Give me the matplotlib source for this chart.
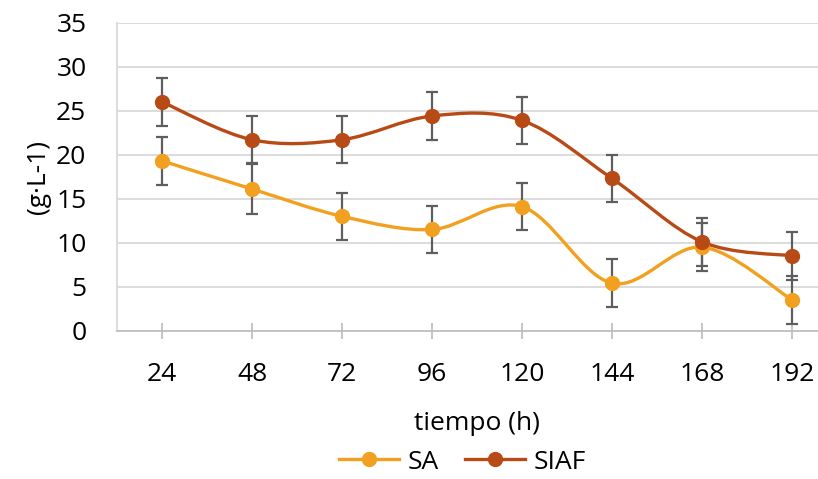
import matplotlib
matplotlib.use('Agg')
import matplotlib.pyplot as plt
from matplotlib.path import Path
from matplotlib.patches import PathPatch
from matplotlib.lines import Line2D
import numpy as np

plt.rcParams['font.family'] = ['Open Sans', 'DejaVu Sans']

horas = ['24', '48', '72', '96', '120', '144', '168', '192']
sa = [19.3, 16.1, 13.0, 11.5, 14.1, 5.4, 9.5, 3.5]
sa_err = [2.7, 2.8, 2.7, 2.7, 2.7, 2.7, 2.7, 2.7]
siaf = [26.0, 21.7, 21.7, 24.4, 23.9, 17.3, 10.1, 8.5]
siaf_err = [2.7, 2.7, 2.7, 2.7, 2.7, 2.7, 2.7, 2.7]

c_sa = '#F2A01F'
c_siaf = '#B84A16'
c_err = '#5E5E5E'
fs = 19


def smooth_path(x, y):
    # excel-like smoothed line: cubic bezier, catmull-rom control points
    pts = np.column_stack([x, y]).astype(float)
    n = len(pts)
    verts = [pts[0]]
    codes = [Path.MOVETO]
    for i in range(n - 1):
        p0 = pts[max(i - 1, 0)]
        p1 = pts[i]
        p2 = pts[i + 1]
        p3 = pts[min(i + 2, n - 1)]
        verts += [p1 + (p2 - p0) / 6, p2 - (p3 - p1) / 6, p2]
        codes += [Path.CURVE4] * 3
    return Path(verts, codes)


fig = plt.figure(figsize=(8.18, 4.79), dpi=100)
ax = fig.add_axes([117 / 818, 1 - 330.7 / 479, 720 / 818, (330.7 - 22.7) / 479])

x = np.arange(len(horas))
for vals, errs, col in [(sa, sa_err, c_sa), (siaf, siaf_err, c_siaf)]:
    ax.add_patch(PathPatch(smooth_path(x, vals), facecolor='none', edgecolor=col,
                           lw=2.4, zorder=3, capstyle='round'))
    ax.errorbar(x, vals, yerr=errs, fmt='none', ecolor=c_err, elinewidth=1.6,
                capsize=4.5, capthick=1.6, zorder=4)
    ax.plot(x, vals, 'o', color=col, markersize=10, zorder=5)

ax.set_xlim(-0.5, 7.5)
ax.set_ylim(0, 35)
ax.set_yticks(range(0, 36, 5))
ax.set_xticks(x)
ax.set_xticklabels(horas)
ax.grid(axis='y', color='#D9D9D9', lw=1.3)
ax.set_axisbelow(True)
for s in ['top', 'right']:
    ax.spines[s].set_visible(False)
ax.spines['left'].set_color('#D9D9D9')
ax.spines['bottom'].set_color('#BFBFBF')
ax.spines['left'].set_linewidth(1.3)
ax.spines['bottom'].set_linewidth(1.3)
ax.tick_params(axis='y', length=0, labelsize=fs, pad=22, colors='#000000')
ax.tick_params(axis='x', direction='inout', length=11, width=1.3, color='#BFBFBF',
               labelsize=fs, pad=17)
ax.set_xlabel('tiempo (h)', fontsize=fs, labelpad=17)
ax.set_ylabel('(g·L-1)', fontsize=fs, labelpad=4)

handles = [Line2D([], [], color=c_sa, lw=2.4, marker='o', markersize=10),
           Line2D([], [], color=c_siaf, lw=2.4, marker='o', markersize=10)]
fig.legend(handles, ['SA', 'SIAF'], loc='center', bbox_to_anchor=(0.565, 0.035),
           ncol=2, frameon=False, fontsize=fs, handlelength=2.3, columnspacing=1.0,
           handletextpad=0.3)

fig.savefig('out.png', dpi=100)
